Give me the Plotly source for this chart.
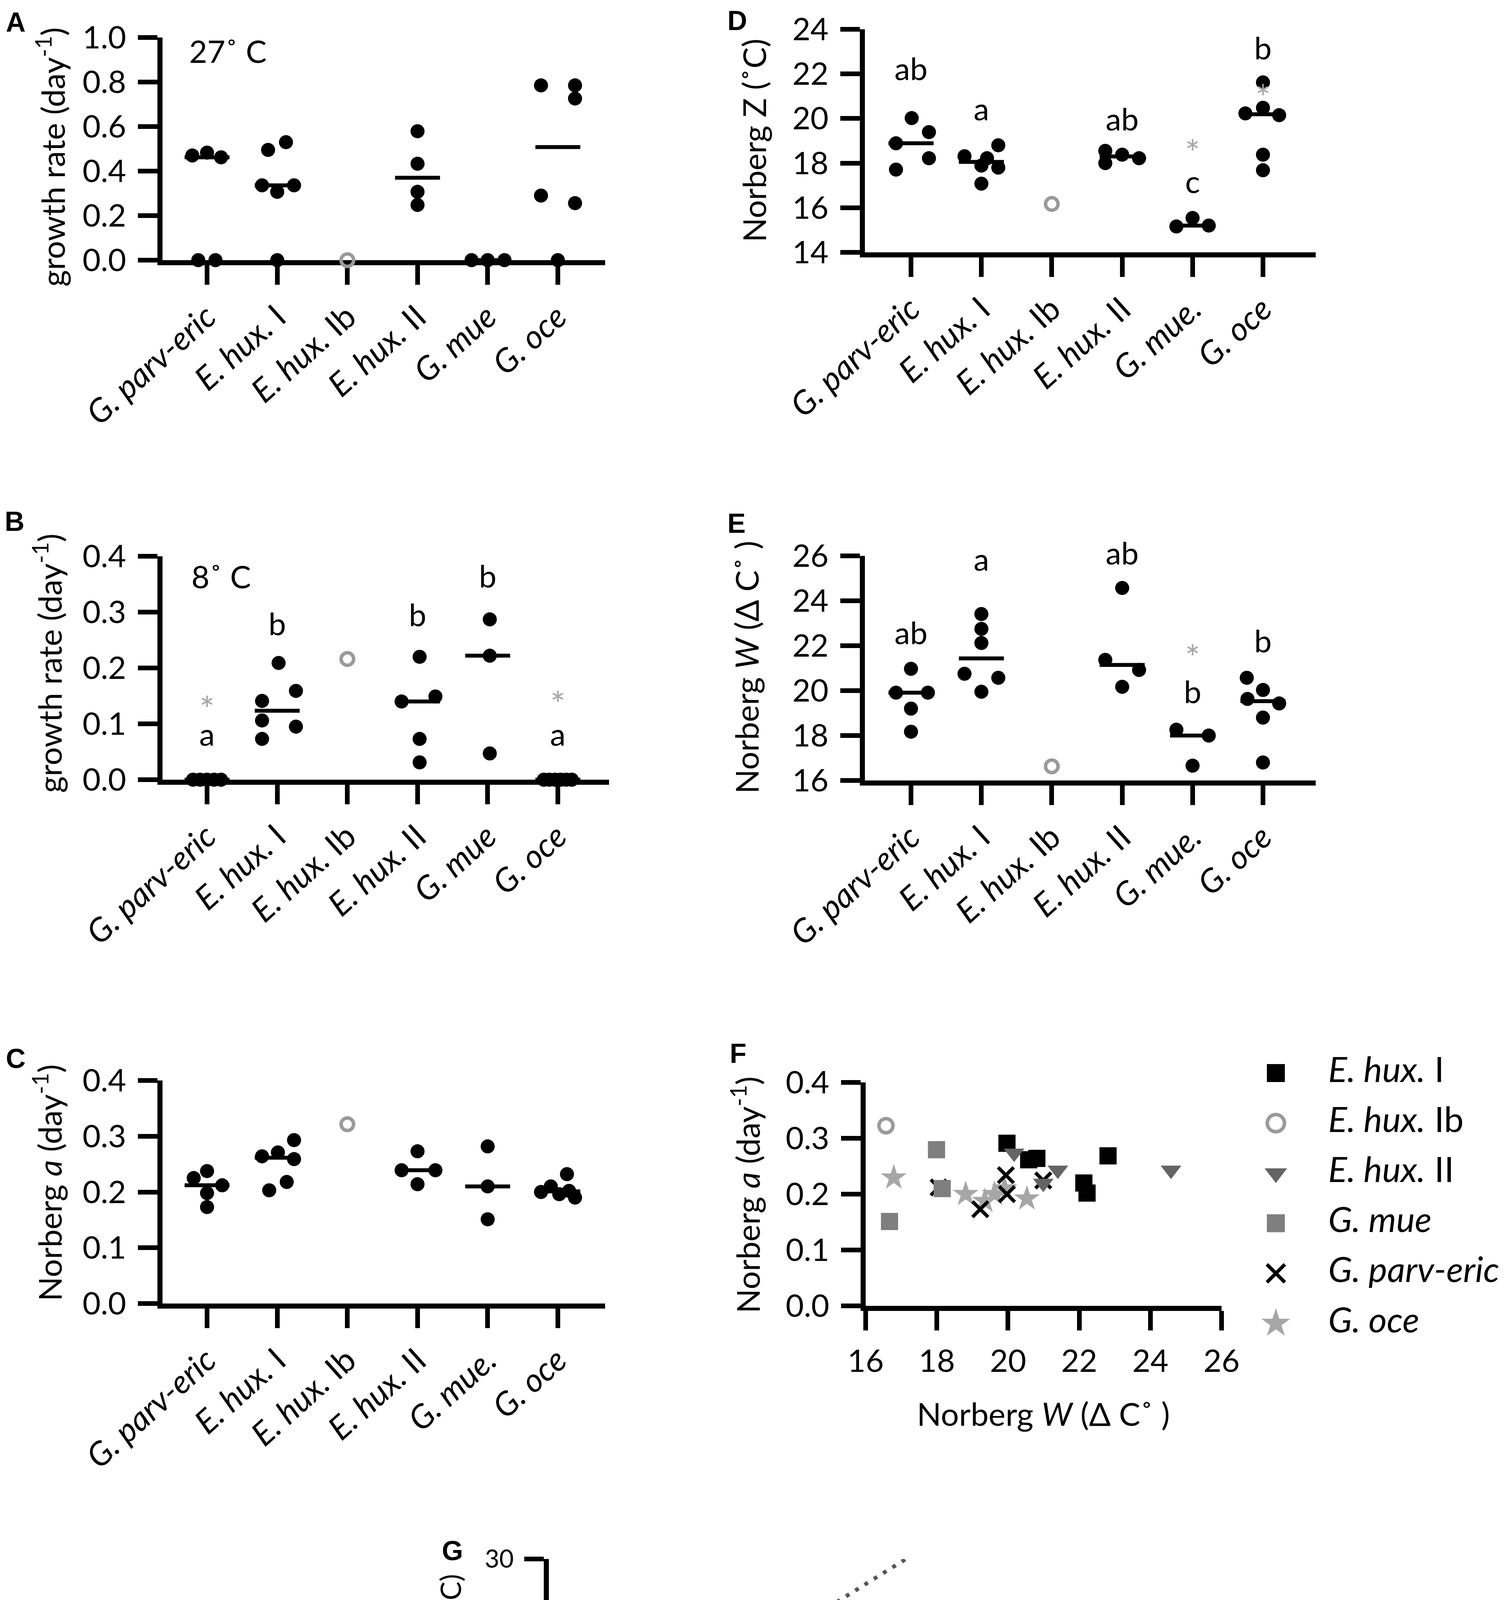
import numpy as np
import plotly.graph_objects as go

W, H = 3850, 4860
FONT = "Lato"
GREY_OPEN = "#9a9a9a"
GREY_STAR = "#a6a6a6"

# category tick labels (strains)
CATS = ["<i>G. parv-eric</i>", "<i>E. hux.</i> I", "<i>E. hux.</i> Ib",
        "<i>E. hux.</i> II", "<i>G. mue</i>", "<i>G. oce</i>"]
CATS_DOT = ["<i>G. parv-eric</i>", "<i>E. hux.</i> I", "<i>E. hux.</i> Ib",
            "<i>E. hux.</i> II", "<i>G. mue.</i>", "<i>G. oce</i>"]
IB = 2  # E. hux. Ib has a single isolate, drawn as grey open circle

# A - growth rate at 27 C (day-1); *_JIT = horizontal offset of each dot
A_VAL = [[0.470, 0.483, 0.462, 0.0, 0.0],
         [0.495, 0.530, 0.336, 0.336, 0.307, 0.0],
         [0.0],
         [0.579, 0.433, 0.307, 0.248],
         [0.0, 0.0, 0.0],
         [0.785, 0.785, 0.726, 0.290, 0.256, 0.0]]
A_JIT = [[-0.21, 0.0, 0.2, -0.125, 0.12],
         [-0.13, 0.125, -0.216, 0.24, 0.0, 0.0],
         [0.0],
         [0.0, 0.0, 0.0, 0.0],
         [-0.23, 0.0, 0.24],
         [-0.24, 0.245, 0.245, -0.24, 0.245, 0.0]]

# B - growth rate at 8 C (day-1)
B_VAL = [[0.0, 0.0, 0.0, 0.0, 0.0],
         [0.141, 0.106, 0.073, 0.209, 0.159, 0.095],
         [0.216],
         [0.220, 0.140, 0.149, 0.073, 0.031],
         [0.287, 0.222, 0.047],
         [0.0, 0.0, 0.0, 0.0, 0.0, 0.0]]
B_JIT = [[-0.2, -0.1, 0.0, 0.1, 0.2],
         [-0.216, -0.216, -0.216, 0.02, 0.267, 0.267],
         [0.0],
         [0.03, -0.227, 0.255, 0.03, 0.03],
         [0.03, 0.03, 0.03],
         [-0.2, -0.12, -0.04, 0.04, 0.12, 0.2]]
B_LET = ["a", "b", "", "b", "b", "a"]
B_LET_Y = [0.058, 0.256, None, 0.272, 0.341, 0.058]   # baselines
B_STAR_CAT = [0, 5]
B_STAR_Y = [0.136, 0.145]

# C - Norberg a (day-1)
C_VAL = [[0.225, 0.2375, 0.212, 0.198, 0.173],
         [0.264, 0.271, 0.293, 0.259, 0.218, 0.203],
         [0.3215],
         [0.273, 0.239, 0.239, 0.214],
         [0.2817, 0.210, 0.151],
         [0.200, 0.196, 0.232, 0.190, 0.210, 0.202]]
C_JIT = [[-0.19, 0.0, 0.216, 0.0, 0.0],
         [-0.216, 0.01, 0.24, 0.24, 0.136, -0.114],
         [0.0],
         [0.0, -0.227, 0.255, 0.0],
         [0.0, 0.0, 0.0],
         [-0.24, 0.02, 0.13, 0.245, -0.1, 0.16]]

# D - Norberg Z (C)
D_VAL = [[18.89, 20.02, 19.39, 18.22, 17.71],
         [18.31, 18.80, 18.22, 17.80, 17.89, 17.08],
         [16.17],
         [18.55, 18.00, 18.38, 18.22],
         [15.16, 15.54, 15.20],
         [21.62, 20.23, 20.48, 20.15, 18.38, 17.68]]
D_JIT = [[-0.213, 0.01, 0.255, 0.255, -0.213],
         [-0.24, 0.24, 0.08, 0.24, 0.0, 0.0],
         [0.0],
         [-0.24, -0.24, 0.0, 0.24],
         [-0.23, 0.0, 0.23],
         [0.0, -0.25, 0.0, 0.23, 0.0, 0.0]]
D_LET = ["ab", "a", "", "ab", "c", "b"]
D_LET_Y = [21.65, 19.85, None, 19.39, 16.59, 22.58]
D_STAR_CAT = [4, 5, 5]
D_STAR_Y = [18.73, 24.6, 21.2]

# E - Norberg W (delta C)
E_VAL = [[19.91, 19.91, 20.97, 19.20, 18.17],
         [23.41, 22.75, 22.12, 20.75, 20.57, 19.95],
         [16.63],
         [24.57, 21.37, 20.92, 20.17],
         [18.26, 18.00, 16.66],
         [20.57, 20.03, 19.63, 19.43, 18.80, 16.80]]
E_JIT = [[-0.213, 0.24, 0.0, 0.0, 0.0],
         [0.0, 0.0, 0.0, -0.24, 0.24, 0.0],
         [0.0],
         [0.0, -0.24, 0.24, 0.0],
         [-0.23, 0.23, 0.0],
         [-0.23, 0.0, -0.22, 0.23, 0.0, 0.0]]
E_LET = ["ab", "a", "", "ab", "b", "b"]
E_LET_Y = [22.0, 25.27, None, 25.55, 19.37, 21.63]
E_STAR_CAT = [4]
E_STAR_Y = [21.72]

# F - Norberg W vs Norberg a, per strain
F_EHUX1_W = [19.97, 20.58, 20.81, 22.81, 22.13, 22.22]
F_EHUX1_A = [0.291, 0.2615, 0.264, 0.2685, 0.220, 0.202]
F_EHUX1B_W = [16.57]
F_EHUX1B_A = [0.3225]
F_EHUX2_W = [20.17, 21.40, 24.58, 20.99]
F_EHUX2_A = [0.2735, 0.243, 0.243, 0.2196]
F_GMUE_W = [17.99, 18.15, 16.67]
F_GMUE_A = [0.2795, 0.210, 0.151]
F_GPARV_W = [18.05, 19.22, 19.94, 19.97, 20.99]
F_GPARV_A = [0.212, 0.173, 0.234, 0.200, 0.2245]
F_GOCE_W = [16.79, 18.81, 19.35, 19.62, 19.90, 20.53]
F_GOCE_A = [0.2295, 0.200, 0.1875, 0.200, 0.210, 0.192]

# G - reconstructed SST vs Norberg Z, per strain
G_EHUX1_SST = [11.85, 13.4, 13.4, 13.4, 14.6, 14.6]
G_EHUX1_Z = [17.9, 18.3, 17.8, 17.1, 18.2, 18.8]
G_EHUX1B_SST = [13.4]
G_EHUX1B_Z = [16.2]
G_EHUX2_SST = [11.85, 11.85, 13.15, 14.5]
G_EHUX2_Z = [18.7, 18.1, 18.6, 18.8]
G_GMUE_SST = [13.4, 13.4, 16.8]
G_GMUE_Z = [15.1, 15.6, 15.6]
G_GPARV_SST = [16.65, 16.65, 16.65, 16.65, 16.65]
G_GPARV_Z = [20.1, 19.6, 19.3, 18.9, 17.8]
G_GOCE_SST = [17.3, 20.4, 20.55, 24.55, 24.65, 29.1]
G_GOCE_Z = [17.5, 20.6, 18.3, 21.7, 20.15, 20.1]
IDENTITY = [10, 30]
T95 = 2.069  # two-sided 95% t value, df = n - 2 = 23

LEGEND_NAMES = ["<i>E. hux.</i> I", "<i>E. hux.</i> Ib", "<i>E. hux.</i> II",
                "<i>G. mue</i>", "<i>G. parv-eric</i>", "<i>G. oce</i>"]

# panel boxes in pixels: (x0, x1, y_top, y_bottom)
BOX = {1: (408, 1541, 88, 658), 2: (408, 1551, 1416, 1988), 3: (408, 1541, 2758, 3329),
       4: (2206, 3360, 67, 638), 5: (2206, 3360, 1415, 1990),
       6: (2208, 3119, 2763, 3335), 7: (1397, 2311, 3983, 4552)}
CAT0 = {1: (522, 179.6), 2: (522, 179.6), 3: (522, 179.6), 4: (2324, 180.2), 5: (2324, 180.2)}
YR = {1: ([0, 1], 0.2, ".1f"), 2: ([0, 0.4], 0.1, ".1f"), 3: ([0, 0.4], 0.1, ".1f"),
      4: ([14, 24], 2, "d"), 5: ([16, 26], 2, "d"), 6: ([0, 0.4], 0.1, ".1f"),
      7: ([10, 30], 5, "d")}


def px_x(p):
    return p / W


def px_y(p):
    return 1 - p / H


def ax(n):
    return ("x" if n == 1 else f"x{n}"), ("y" if n == 1 else f"y{n}")


def unit_per_px(n):
    yr = YR[n][0]
    return (yr[1] - yr[0]) / (BOX[n][3] - BOX[n][2])


fig = go.Figure()


def dot_panel(n, values, jitter):
    xa, ya = ax(n)
    for i, (vals, jit) in enumerate(zip(values, jitter)):
        xs = [i + j for j in jit]
        if i == IB:
            marker = dict(symbol="circle-open", size=32, color=GREY_OPEN,
                          line=dict(width=9, color=GREY_OPEN))
        else:
            marker = dict(symbol="circle", size=36, color="black")
        fig.add_trace(go.Scatter(x=xs, y=vals, mode="markers", marker=marker,
                                 xaxis=xa, yaxis=ya, cliponaxis=False,
                                 showlegend=False, hoverinfo="skip"))
        if len(vals) > 1:
            m = float(np.median(vals))
            fig.add_trace(go.Scatter(x=[i - 0.32, i + 0.32], y=[m, m], mode="lines",
                                     line=dict(color="black", width=10),
                                     xaxis=xa, yaxis=ya, cliponaxis=False,
                                     showlegend=False, hoverinfo="skip"))


def letters(n, labels, baselines):
    # text is centred ~0.3 em above its baseline
    xa, ya = ax(n)
    up = 0.3 * 80 * unit_per_px(n)
    xs = [i for i, t in enumerate(labels) if t]
    ys = [b + up for t, b in zip(labels, baselines) if t]
    fig.add_trace(go.Scatter(x=xs, y=ys, mode="text", text=[t for t in labels if t],
                             textposition="middle center",
                             textfont=dict(family=FONT, size=80, color="black"),
                             xaxis=xa, yaxis=ya, cliponaxis=False,
                             showlegend=False, hoverinfo="skip"))


def stars(n, cats, centres):
    # the asterisk glyph sits ~0.27 em above the text centre
    xa, ya = ax(n)
    down = 0.27 * 92 * unit_per_px(n)
    fig.add_trace(go.Scatter(x=cats, y=[c - down for c in centres], mode="text",
                             text=["*"] * len(cats), textposition="middle center",
                             textfont=dict(family=FONT, size=92, color=GREY_STAR),
                             xaxis=xa, yaxis=ya, cliponaxis=False,
                             showlegend=False, hoverinfo="skip"))


dot_panel(1, A_VAL, A_JIT)
dot_panel(2, B_VAL, B_JIT)
dot_panel(3, C_VAL, C_JIT)
dot_panel(4, D_VAL, D_JIT)
dot_panel(5, E_VAL, E_JIT)
letters(2, B_LET, B_LET_Y)
letters(4, D_LET, D_LET_Y)
letters(5, E_LET, E_LET_Y)
stars(2, B_STAR_CAT, B_STAR_Y)
stars(4, D_STAR_CAT, D_STAR_Y)
stars(5, E_STAR_CAT, E_STAR_Y)

# strain styles: (symbol, colour, size F, size G, size legend, line width)
STYLE = {
    "goce": ("star", GREY_STAR, 50, 50, 56, 0),
    "gparv": ("x-thin-open", "black", 40, 38, 46, 9),
    "ehux1": ("square", "black", 44, 36, 46, 0),
    "ehux2": ("triangle-down", "#646464", 46, 42, 50, 0),
    "gmue": ("square", "#7f7f7f", 44, 36, 46, 0),
    "ehux1b": ("circle-open", GREY_OPEN, 36, 30, 44, 9),
}


def strain_marker(key, which):
    sym, col, sf, sg, sl, lw = STYLE[key]
    size = {"F": sf, "G": sg, "L": sl}[which]
    m = dict(symbol=sym, color=col, size=size)
    if lw:
        m["line"] = dict(width=lw if which != "G" else lw - 1, color=col)
    else:
        m["line"] = dict(width=0)
    return m


F_SERIES = [("goce", F_GOCE_W, F_GOCE_A), ("gparv", F_GPARV_W, F_GPARV_A),
            ("ehux1", F_EHUX1_W, F_EHUX1_A), ("ehux2", F_EHUX2_W, F_EHUX2_A),
            ("gmue", F_GMUE_W, F_GMUE_A), ("ehux1b", F_EHUX1B_W, F_EHUX1B_A)]
for key, xs, ys in F_SERIES:
    fig.add_trace(go.Scatter(x=xs, y=ys, mode="markers", marker=strain_marker(key, "F"),
                             xaxis="x6", yaxis="y6", cliponaxis=False,
                             showlegend=False, hoverinfo="skip"))

G_SERIES = [("goce", G_GOCE_SST, G_GOCE_Z), ("gparv", G_GPARV_SST, G_GPARV_Z),
            ("ehux1", G_EHUX1_SST, G_EHUX1_Z), ("ehux2", G_EHUX2_SST, G_EHUX2_Z),
            ("gmue", G_GMUE_SST, G_GMUE_Z), ("ehux1b", G_EHUX1B_SST, G_EHUX1B_Z)]
for key, xs, ys in G_SERIES:
    fig.add_trace(go.Scatter(x=xs, y=ys, mode="markers", marker=strain_marker(key, "G"),
                             xaxis="x7", yaxis="y7", cliponaxis=False,
                             showlegend=False, hoverinfo="skip"))

# linear regression with 95% confidence band for G
gx = np.concatenate([np.array(s[1], float) for s in G_SERIES])
gy = np.concatenate([np.array(s[2], float) for s in G_SERIES])
slope, icpt = np.polyfit(gx, gy, 1)
resid = gy - (slope * gx + icpt)
s_err = np.sqrt(np.sum(resid ** 2) / (len(gx) - 2))
sxx = np.sum((gx - gx.mean()) ** 2)
fx = np.linspace(gx.min(), gx.max(), 80)
fy = slope * fx + icpt
half = T95 * s_err * np.sqrt(1 / len(gx) + (fx - gx.mean()) ** 2 / sxx)

fig.add_trace(go.Scatter(x=IDENTITY, y=IDENTITY, mode="lines",
                         line=dict(color="#555555", width=10, dash="10px,18px"),
                         xaxis="x7", yaxis="y7", showlegend=False, hoverinfo="skip"))
for yy, dash in [(fy + half, "22px,12px"), (fy - half, "22px,12px"), (fy, "solid")]:
    fig.add_trace(go.Scatter(x=fx, y=yy, mode="lines",
                             line=dict(color="black", width=5, dash=dash),
                             xaxis="x7", yaxis="y7", showlegend=False, hoverinfo="skip"))

# hand-drawn legend for F (large symbols)
LEG_KEYS = ["ehux1", "ehux1b", "ehux2", "gmue", "gparv", "goce"]
for i, key in enumerate(LEG_KEYS):
    fig.add_trace(go.Scatter(x=[0], y=[i], mode="markers", marker=strain_marker(key, "L"),
                             xaxis="x8", yaxis="y8", cliponaxis=False,
                             showlegend=False, hoverinfo="skip"))
fig.add_trace(go.Scatter(x=[1] * len(LEGEND_NAMES), y=list(range(len(LEGEND_NAMES))),
                         mode="text", text=LEGEND_NAMES, textposition="middle right",
                         textfont=dict(family=FONT, size=90, color="black"),
                         xaxis="x8", yaxis="y8", cliponaxis=False,
                         showlegend=False, hoverinfo="skip"))


def base_axis(size=80):
    return dict(showline=True, linewidth=13, linecolor="black", ticks="outside",
                ticklen=50, tickwidth=12, tickcolor="black", showgrid=False,
                zeroline=False, layer="below traces", fixedrange=True, automargin=False,
                tickfont=dict(family=FONT, size=size, color="black"))


layout = {}
for n, (x0, x1, yt, yb) in BOX.items():
    xk = "xaxis" if n == 1 else f"xaxis{n}"
    yk = "yaxis" if n == 1 else f"yaxis{n}"
    xa, ya = ax(n)
    fs = 64 if n == 7 else 80
    xd = base_axis(fs)
    xd.update(domain=[px_x(x0), px_x(x1)], anchor=ya)
    if n in CAT0:
        c0, sp = CAT0[n]
        xd.update(range=[(x0 - c0) / sp, (x1 - c0) / sp], tickmode="array",
                  tickvals=list(range(6)), ticktext=CATS if n in (1, 2) else CATS_DOT,
                  tickangle=-42, ticklabelstandoff=0,
                  tickfont=dict(family=FONT, size=84, color="black"))
    elif n == 6:
        xd.update(range=[16, 26], dtick=2, tick0=16, ticklabelstandoff=10)
    else:
        xd.update(range=[10, 30], dtick=5, tick0=10, ticklabelstandoff=10)
    yr, dt, fmt = YR[n]
    yd = base_axis(fs)
    yd.update(domain=[px_y(yb), px_y(yt)], anchor=xa, range=yr, dtick=dt, tick0=yr[0],
              tickformat=fmt, ticklabelstandoff=14)
    layout[xk] = xd
    layout[yk] = yd

layout["xaxis8"] = dict(domain=[px_x(3258), px_x(3392)], range=[0, 1], visible=False,
                        anchor="y8", fixedrange=True, automargin=False)
layout["yaxis8"] = dict(domain=[px_y(3380), px_y(2739)], range=[5, 0], visible=False,
                        anchor="x8", fixedrange=True, automargin=False)

fig.update_layout(width=W, height=H, autosize=False,
                  margin=dict(l=0, r=0, t=0, b=0, pad=0, autoexpand=False),
                  paper_bgcolor="white", plot_bgcolor="white", showlegend=False,
                  font=dict(family=FONT, color="black"), **layout)


def text(xp, yp, t, size, angle=0, xanchor="center", yanchor="middle", **font):
    fig.add_annotation(x=px_x(xp), y=px_y(yp), xref="paper", yref="paper", text=t,
                       showarrow=False, textangle=angle, xanchor=xanchor, yanchor=yanchor,
                       font=dict(family=font.get("family", FONT), size=size,
                                 color="black", weight=font.get("weight", "normal")))


# axis titles
text(121, 394, "growth rate (day<sup>-1</sup>)", 82, -90)
text(113, 1690, "growth rate (day<sup>-1</sup>)", 82, -90)
text(113, 3020, "Norberg <i>a</i> (day<sup>-1</sup>)", 82, -90)
text(1921, 352, "Norberg Z (˚C)", 82, -90)
text(1902, 1700, "Norberg <i>W</i> (Δ C˚ )", 82, -90)
text(1900, 3051, "Norberg <i>a</i> (day<sup>-1</sup>)", 82, -90)
text(2663, 3610, "Norberg <i>W</i> (Δ C˚ )", 82)
text(1144, 4250, "Norberg Z (˚C)", 72, -90)
text(1855, 4807, "Reconstr. SST (˚C)", 70)

# temperature labels
text(474, 72, "27˚ C", 80, xanchor="left", yanchor="top")
text(480, 1417, "8˚ C", 80, xanchor="left", yanchor="top")

# panel letters
for lab, xp, yp in [("A", 5, 8), ("B", 2, 1286), ("C", 5, 2661), ("D", 1852, 4),
                    ("E", 1852, 1291), ("F", 1858, 2648), ("G", 1121, 3921)]:
    text(xp, yp, lab, 70, xanchor="left", yanchor="top",
         family="Liberation Sans", weight="bold")

fig.write_html("out.html")
